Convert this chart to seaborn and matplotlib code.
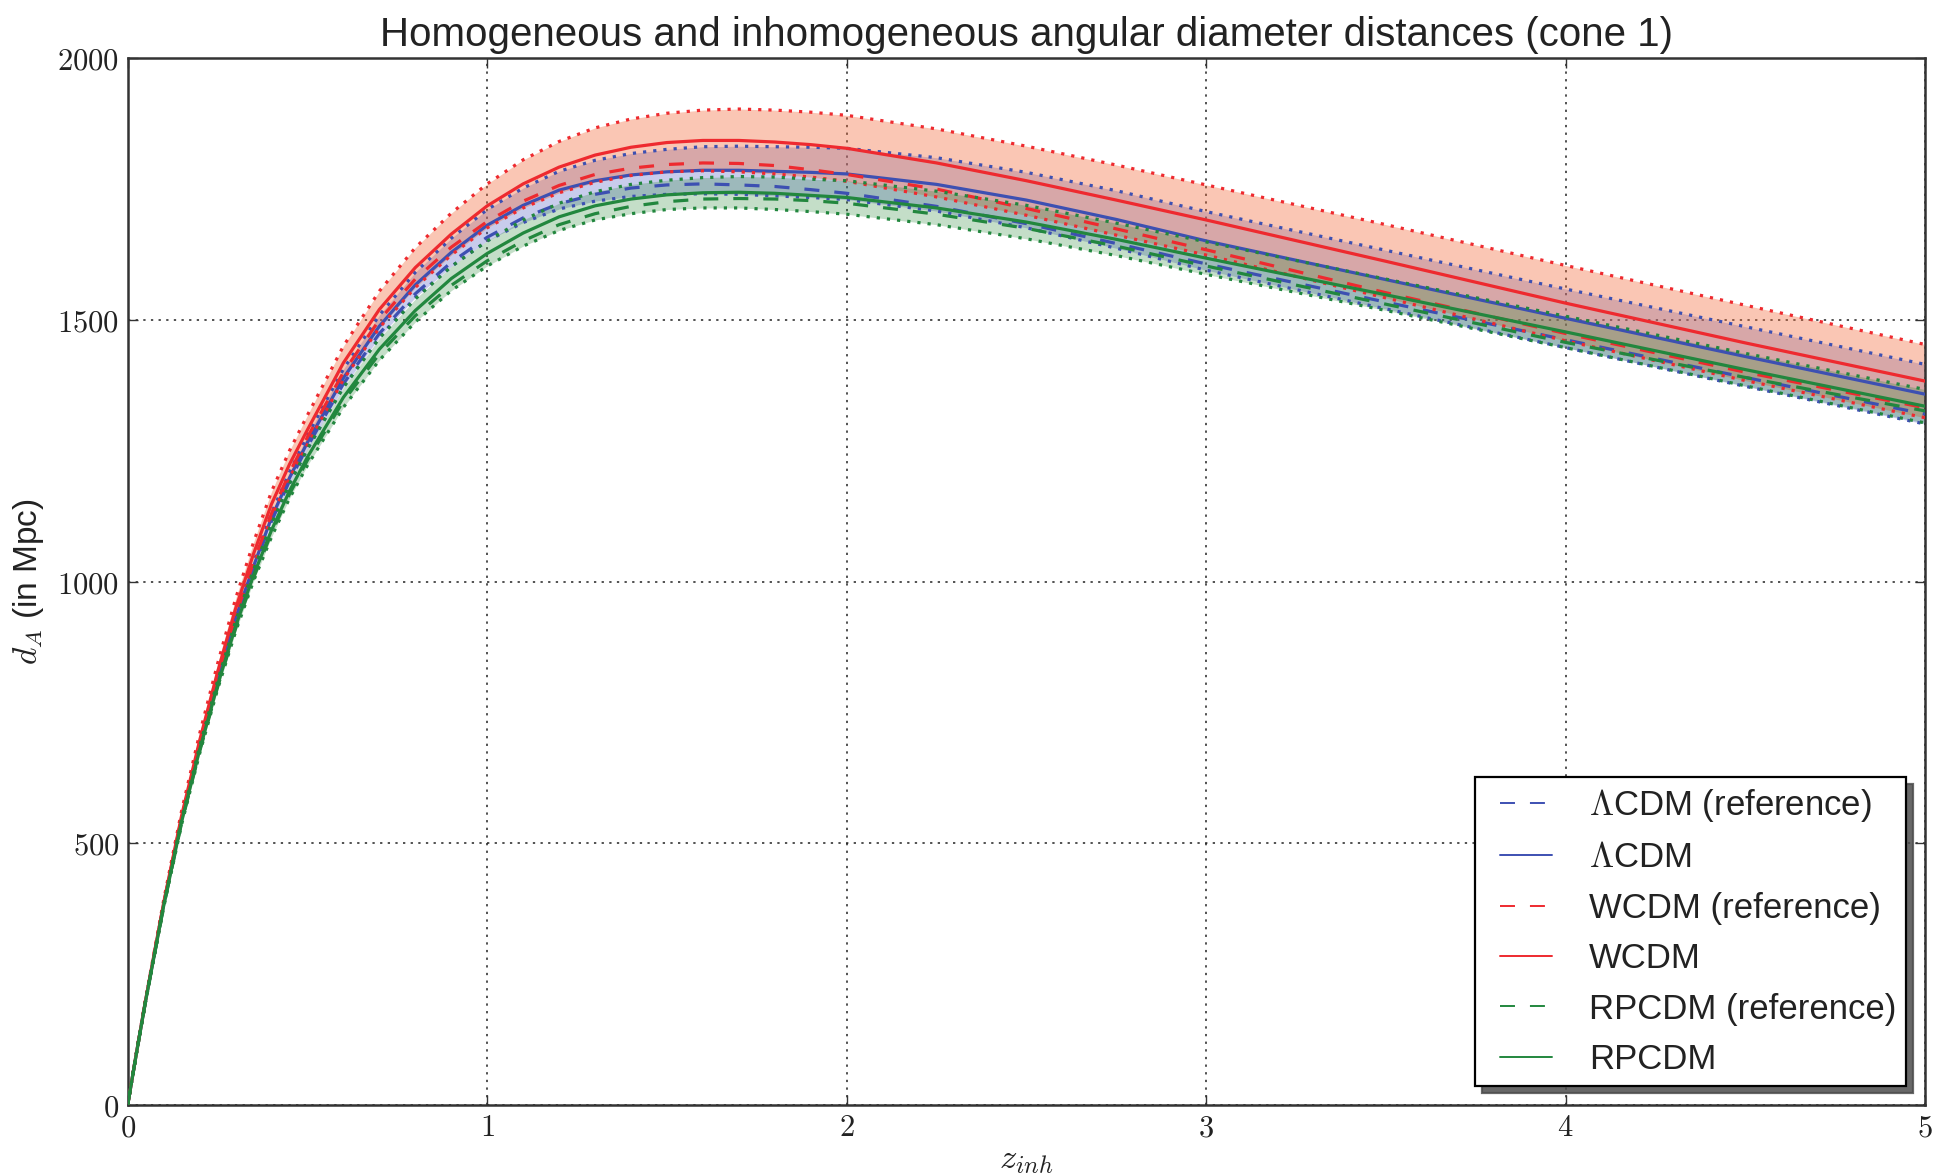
import numpy as np
import pandas as pd
import matplotlib
matplotlib.use("Agg")
import matplotlib.pyplot as plt
from matplotlib.ticker import FuncFormatter
from matplotlib.lines import Line2D
from matplotlib.legend_handler import HandlerLine2D
import seaborn as sns

# ---------------- data ----------------
z = [0, 0.025, 0.05, 0.1, 0.15, 0.2, 0.25, 0.3, 0.35, 0.4, 0.45, 0.5, 0.6, 0.7,
     0.8, 0.9, 1.0, 1.1, 1.2, 1.3, 1.4, 1.5, 1.6, 1.7, 1.8, 1.9, 2.0, 2.25, 2.5,
     2.75, 3.0, 3.5, 4.0, 4.5, 5.0]

lcdm_ref = [0, 102, 200, 382, 545, 683, 810, 925, 1025, 1115, 1192, 1258, 1378,
            1474, 1550, 1610, 1658, 1695, 1722, 1740, 1752, 1758, 1760, 1758, 1755,
            1749, 1742, 1717, 1684, 1646, 1607, 1534, 1462, 1390, 1320]
lcdm_mean = [0, 102, 200, 383, 547, 686, 812, 930, 1029, 1122, 1198, 1266, 1389,
             1488, 1567, 1629, 1681, 1719, 1748, 1766, 1777, 1783, 1786, 1786, 1784,
             1782, 1779, 1759, 1729, 1692, 1651, 1577, 1503, 1430, 1358]
lcdm_sig = [0, 0, 0, 1, 2, 3, 4, 6, 7, 9, 11, 13, 17, 21, 24, 27, 30, 33, 36, 39,
            41, 43, 45, 46, 47, 48, 49, 51, 53, 55, 56, 56, 56, 57, 57]

wcdm_ref = [0, 102, 200, 384, 549, 689, 817, 935, 1037, 1130, 1208, 1276, 1400,
            1500, 1578, 1639, 1688, 1727, 1757, 1778, 1790, 1797, 1800, 1799, 1795,
            1787, 1778, 1750, 1713, 1674, 1634, 1552, 1474, 1400, 1332]
wcdm_mean = [0, 102, 201, 386, 553, 696, 827, 948, 1053, 1148, 1224, 1290, 1418,
             1520, 1600, 1664, 1718, 1760, 1792, 1815, 1830, 1839, 1843, 1843, 1840,
             1835, 1828, 1800, 1766, 1729, 1691, 1612, 1532, 1456, 1383]
wcdm_sig = [0, 1, 2, 5, 9, 13, 16, 19, 22, 24, 26, 28, 32, 35, 38, 40, 42, 46, 49,
            52, 54, 56, 58, 60, 61, 62, 63, 65, 66, 67, 67, 70, 72, 72, 70]

rpcdm_ref = [0, 101, 199, 379, 539, 675, 798, 910, 1007, 1093, 1167, 1232, 1345,
             1435, 1508, 1566, 1613, 1651, 1682, 1703, 1717, 1726, 1731, 1732, 1731,
             1728, 1723, 1702, 1675, 1641, 1603, 1530, 1457, 1390, 1326]
rpcdm_mean = [0, 101, 199, 380, 541, 678, 802, 914, 1012, 1098, 1173, 1238, 1352,
              1444, 1518, 1579, 1627, 1666, 1697, 1718, 1731, 1739, 1743, 1744, 1742,
              1738, 1734, 1714, 1687, 1654, 1618, 1548, 1477, 1405, 1335]
rpcdm_sig = [0, 0, 1, 3, 5, 7, 8, 10, 11, 13, 14, 16, 19, 21, 22, 23, 24, 25, 26,
             27, 28, 28, 29, 30, 31, 31, 32, 32, 32, 31, 31, 30, 30, 31, 32]

models = ["$\\Lambda$CDM", "WCDM", "RPCDM"]
x_ticks = [0, 1, 2, 3, 4, 5]
y_ticks = [0, 500, 1000, 1500, 2000]

# ---------------- style ----------------
sns.set_theme(style="white")
plt.rcParams["font.family"] = ["Liberation Sans", "DejaVu Sans"]
plt.rcParams["mathtext.fontset"] = "cm"

line_col = {"$\\Lambda$CDM": "#3D50B2", "WCDM": "#EE2A2F", "RPCDM": "#22873E"}
fill_col = {"$\\Lambda$CDM": ("#5A64C8", 0.33), "WCDM": ("#F26B3A", 0.38),
            "RPCDM": ("#2E8B3C", 0.28)}

data = {
    "$\\Lambda$CDM": (lcdm_ref, lcdm_mean, lcdm_sig),
    "WCDM": (wcdm_ref, wcdm_mean, wcdm_sig),
    "RPCDM": (rpcdm_ref, rpcdm_mean, rpcdm_sig),
}

fig = plt.figure(figsize=(19.44, 11.73), dpi=100)
ax = fig.add_axes([0.0657, 0.0582, 0.9246, 0.8921])

zz = np.array(z, dtype=float)
LW = 2.3
dash = (0, (4.7, 4.7))
dot = (0, (1.0, 2.2))

# bands first (blue, red, green)
for m in models:
    ref, mean, sig = (np.array(a, dtype=float) for a in data[m])
    fc, al = fill_col[m]
    ax.fill_between(zz, mean - sig, mean + sig, color=fc, alpha=al, lw=0, zorder=1)

# then the lines
for m in models:
    ref, mean, sig = (np.array(a, dtype=float) for a in data[m])
    c = line_col[m]
    df = pd.DataFrame({"z": zz, "ref": ref, "mean": mean,
                       "lo": mean - sig, "hi": mean + sig})
    sns.lineplot(data=df, x="z", y="hi", ax=ax, color=c, lw=LW, linestyle=dot,
                 legend=False, zorder=3)
    sns.lineplot(data=df, x="z", y="lo", ax=ax, color=c, lw=LW, linestyle=dot,
                 legend=False, zorder=3)
    sns.lineplot(data=df, x="z", y="ref", ax=ax, color=c, lw=LW, linestyle=dash,
                 legend=False, zorder=3)
    sns.lineplot(data=df, x="z", y="mean", ax=ax, color=c, lw=LW, linestyle="-",
                 legend=False, zorder=3)

ax.set_xlim(0, 5)
ax.set_ylim(0, 2000)
ax.set_xticks(x_ticks)
ax.set_yticks(y_ticks)
fmt = FuncFormatter(lambda v, p: "$%d$" % int(round(v)))
ax.xaxis.set_major_formatter(fmt)
ax.yaxis.set_major_formatter(fmt)
ax.tick_params(axis="both", which="major", direction="in", length=7, width=1.0,
               color="#333333", labelsize=22, pad=6, bottom=True, top=True,
               left=True, right=True, labelcolor="#222222")

ax.grid(True, color="#222222", linestyle=(0, (1.5, 3.5)), lw=1.1)
for s in ax.spines.values():
    s.set_color("#333333")
    s.set_linewidth(1.8)

ax.set_title("Homogeneous and inhomogeneous angular diameter distances (cone 1)",
             fontsize=29, color="#222222", pad=9)
ax.set_ylabel("$d_A$ (in Mpc)", fontsize=24, color="#222222", labelpad=8)
ax.set_xlabel("$z_{inh}$", fontsize=25, color="#222222", labelpad=0)

handles, labels = [], []
for m in models:
    c = line_col[m]
    handles.append(Line2D([], [], color=c, lw=1.4, linestyle=(0, (7.7, 7.7))))
    labels.append(m + " (reference)")
    handles.append(Line2D([], [], color=c, lw=1.4, linestyle="-"))
    labels.append(m)

leg = ax.legend(handles, labels, loc="lower right", fontsize=25, frameon=True,
                fancybox=False, framealpha=1.0, edgecolor="black",
                shadow={"ox": 5, "oy": -5, "alpha": 0.85},
                handlelength=1.95, handletextpad=1.06, labelspacing=0.5,
                borderpad=0.28, borderaxespad=0.55,
                handler_map={Line2D: HandlerLine2D(xpad=0.45)})
leg.get_frame().set_linewidth(1.6)
for t in leg.get_texts():
    t.set_color("#222222")

fig.savefig("out.png", dpi=100)
